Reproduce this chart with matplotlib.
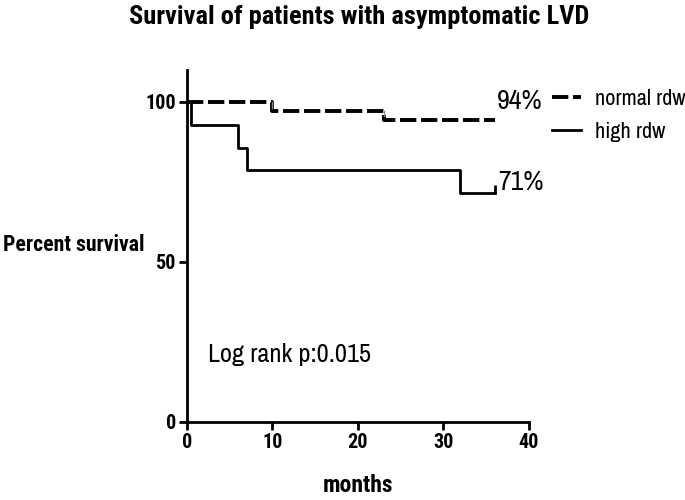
import matplotlib
matplotlib.use('Agg')
import matplotlib.pyplot as plt
from matplotlib import font_manager

# condensed sans like the original; fall back to Liberation Sans (smaller sizes)
names = {f.name for f in font_manager.fontManager.ttflist}
if 'Archivo Narrow' in names:
    FONT, K = 'Archivo Narrow', 1.0
else:
    FONT, K = 'Liberation Sans', 0.82
BOLD = FONT
for cand in ['Roboto Condensed', 'Asap Condensed', 'Barlow Semi Condensed']:
    if cand in names:
        BOLD = cand
        break
plt.rcParams['font.family'] = [FONT, 'DejaVu Sans']
bfont = dict(family=[BOLD, 'DejaVu Sans'], fontweight='bold')

# ==========================================
# DATA
# ==========================================
normal_t = [0, 10, 23, 36]
normal_s = [100, 97.3, 94.5, 94.5]

high_t = [0, 0.5, 6, 7, 32, 36]
high_s = [100, 92.9, 85.7, 78.6, 71.4, 71.4]

normal_censor_t = [10, 23]
normal_censor_s = [100, 97.3]
x_ticks = [0, 10, 20, 30, 40]
y_ticks = [0, 50, 100]

# ==========================================
# FIGURE
# ==========================================
fig = plt.figure(figsize=(6.85, 5.0), dpi=100)
ax = fig.add_axes([0.273, 0.157, 0.499, 0.703])

ax.step(normal_t, normal_s, where='post', color='black', lw=2.8,
        linestyle=(0, (4.2, 1.2)), label='normal rdw')
ax.step(high_t, high_s, where='post', color='black', lw=2,
        label='high rdw')

# censor ticks
ax.vlines(high_t[-1], high_s[-1], high_s[-1] + 2.5, color='black', lw=2)
for t, s in zip(normal_censor_t, normal_censor_s):
    ax.plot([t, t], [s, s - 1.8], color='#888888', lw=1)

ax.text(36.3, 96.2, '94%', fontsize=20 * K, va='bottom')
ax.text(36.4, 71.0, '71%', fontsize=20 * K, va='bottom')
ax.text(2.4, 21, 'Log rank p:0.015', fontsize=19 * K, va='center')

ax.set_xlim(0, 40)
ax.set_ylim(0, 110)
ax.set_xticks(x_ticks)
ax.set_yticks(y_ticks)
for sp in ['top', 'right']:
    ax.spines[sp].set_visible(False)
for sp in ['left', 'bottom']:
    ax.spines[sp].set_linewidth(2)
ax.tick_params(width=2, length=6, pad=2)
for lab in ax.get_xticklabels() + ax.get_yticklabels():
    lab.set_fontproperties(font_manager.FontProperties(family=BOLD, weight='bold',
                                                       size=14.5 * K))

ax.set_xlabel('months', fontsize=17 * K, labelpad=16, **bfont)
fig.text(0.005, 0.51, 'Percent survival', fontsize=15.7 * K,
         va='center', ha='left', **bfont)
fig.suptitle('Survival of patients with asymptomatic LVD', fontsize=19 * K,
             x=0.525, y=0.99, **bfont)

leg = ax.legend(loc='upper left', bbox_to_anchor=(1.03, 0.985), frameon=False,
                fontsize=16 * K, handlelength=1.3, handletextpad=0.6,
                labelspacing=0.6, borderaxespad=0.2)

fig.savefig('out.png', dpi=100)
